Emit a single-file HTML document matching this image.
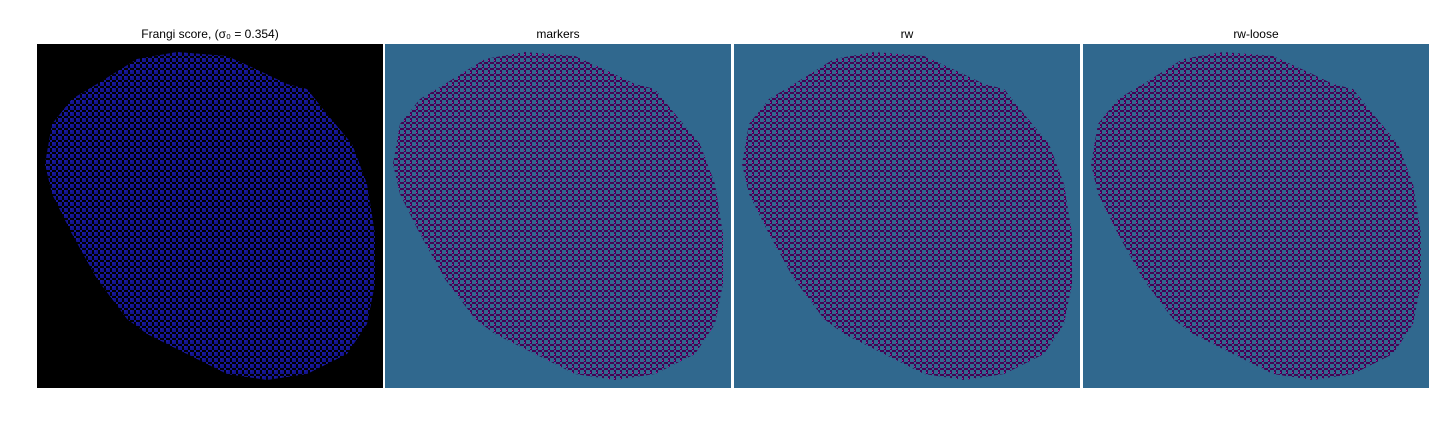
<!DOCTYPE html>
<html><head><meta charset="utf-8"><style>
html,body{margin:0;padding:0;background:#fff;width:1440px;height:432px;overflow:hidden}
svg{display:block}
text{font-family:"Liberation Sans","DejaVu Sans",sans-serif;font-size:12px;fill:#000}
</style></head><body>
<svg id="fig" width="1440" height="432">
<defs>
<pattern id="pv" width="6" height="6" patternUnits="userSpaceOnUse">
<rect width="6" height="6" fill="#440154"/>
<rect x="0" y="0" width="2" height="2" fill="#31688e"/><rect x="4" y="0" width="2" height="2" fill="#31688e"/>
<rect x="2" y="2" width="2" height="2" fill="#31688e"/><rect x="0" y="4" width="2" height="2" fill="#31688e"/>
<rect x="4" y="4" width="2" height="2" fill="#31688e"/><rect x="2" y="0" width="1" height="1" fill="#b5179e"/>
</pattern>
<pattern id="pf" width="6" height="6" patternUnits="userSpaceOnUse">
<rect width="6" height="6" fill="#000"/>
<rect x="0" y="0" width="2" height="2" fill="#14148f"/><rect x="4" y="0" width="2" height="2" fill="#14148f"/>
<rect x="2" y="2" width="2" height="2" fill="#1a1aa0"/><rect x="0" y="4" width="2" height="2" fill="#14148f"/>
<rect x="4" y="4" width="2" height="2" fill="#1a1aa0"/>
</pattern>
</defs>
</svg>
<script>
const outline=[[60,40],[100,15],[140,8],[190,12],[225,28],[250,40],[270,45],[290,70],[315,100],[330,140],[338,190],[338,240],[330,280],[310,310],[270,330],[230,336],[190,330],[150,310],[110,290],[90,275],[60,235],[35,190],[15,150],[8,120],[15,80],[35,55]];
const titles=["Frangi score, (σ₀ = 0.354)","markers","rw","rw-loose"];
const names=["frangi-panel","markers-panel","rw-panel","rw-loose-panel"];
const xs=[37,385,734,1083];
const NS="http://www.w3.org/2000/svg";
const svg=document.getElementById('fig');
titles.forEach((t,i)=>{
  const g=document.createElementNS(NS,'g');
  
  
  const bg=document.createElementNS(NS,'rect');
  bg.setAttribute('x',xs[i]);bg.setAttribute('y',44);bg.setAttribute('width',346);bg.setAttribute('height',344);
  bg.setAttribute('fill',i==0?'#000':'#30688e');
  
  
  g.appendChild(bg);
  const p=document.createElementNS(NS,'polygon');
  p.setAttribute('points',outline.map(q=>(xs[i]+q[0])+','+(44+q[1])).join(' '));
  p.setAttribute('fill',i==0?'url(#pf)':'url(#pv)');
  
  
  g.appendChild(p);
  const tx=document.createElementNS(NS,'text');
  tx.setAttribute('x',xs[i]+173);tx.setAttribute('y',38);tx.setAttribute('text-anchor','middle');
  tx.textContent=t;
  
  
  g.appendChild(tx);
  svg.appendChild(g);
});
</script>
</body></html>
